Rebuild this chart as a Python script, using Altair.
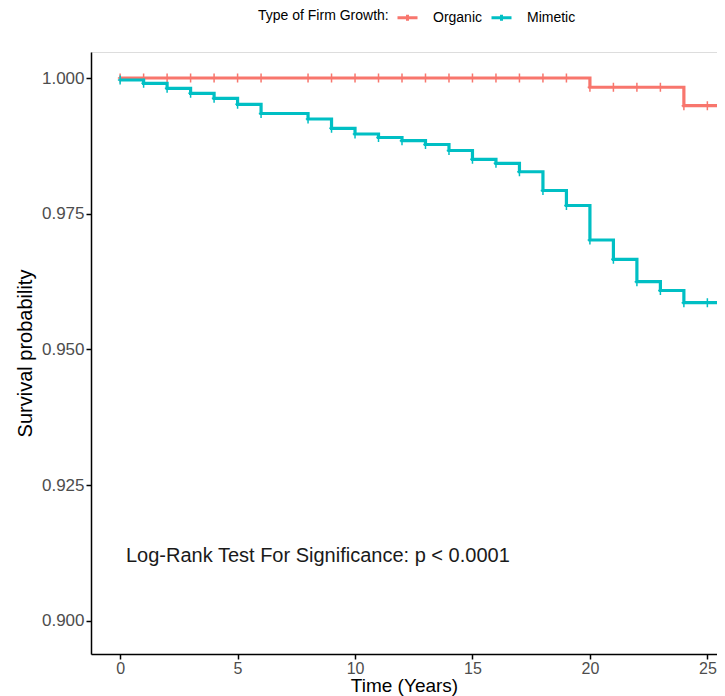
import altair as alt
import pandas as pd

# ---- data ----
groups = ["Organic", "Mimetic"]
colors = ["#F8766D", "#00BFC4"]

organic_time = [0, 20, 24, 27]
organic_surv = [1.0000, 0.9983, 0.9949, 0.9949]

mimetic_time = [0, 1, 2, 3, 4, 5, 6, 8, 9, 10, 11, 12, 13, 14, 15, 16,
                17, 18, 19, 20, 21, 22, 23, 24, 27]
mimetic_surv = [0.99963, 0.99902, 0.99810, 0.99718, 0.99626, 0.99516, 0.99346,
                0.99245, 0.99074, 0.98969, 0.98904, 0.98845, 0.98775, 0.98665,
                0.98503, 0.98429, 0.98274, 0.97928, 0.97652, 0.97017, 0.96661,
                0.96249, 0.96087, 0.95862, 0.95862]

censor_time = [0, 1, 2, 3, 4, 5, 6, 8, 9, 10, 11, 12, 13, 14, 15, 16, 17, 18,
               19, 20, 21, 22, 23, 24, 25]

x_ticks = [0, 5, 10, 15, 20, 25]
y_ticks = [0.900, 0.925, 0.950, 0.975, 1.000]

note_text = ["Log-Rank Test For Significance: p < 0.0001"]
note_x = [0.25]
note_y = [0.912]


def step_value(times, survs, t):
    v = survs[0]
    for tt, s in zip(times, survs):
        if tt <= t:
            v = s
    return v


rows = []
for t, s in zip(organic_time, organic_surv):
    rows.append({"group": "Organic", "time": t, "surv": s})
for t, s in zip(mimetic_time, mimetic_surv):
    rows.append({"group": "Mimetic", "time": t, "surv": s})
df_lines = pd.DataFrame(rows)

crow = []
for t in censor_time:
    crow.append({"group": "Organic", "time": t,
                 "surv": step_value(organic_time, organic_surv, t)})
    crow.append({"group": "Mimetic", "time": t,
                 "surv": step_value(mimetic_time, mimetic_surv, t)})
df_cens = pd.DataFrame(crow)

df_note = pd.DataFrame({"x": note_x, "y": note_y, "label": note_text})

FONT = "Liberation Sans"

x_scale = alt.Scale(domain=[-1.24, 25.41], nice=False, zero=False)
y_scale = alt.Scale(domain=[0.89392, 1.00479], nice=False, zero=False)

x_axis = alt.Axis(values=x_ticks, title="Time (Years)", grid=False,
                  labelFontSize=16, titleFontSize=19, labelFont=FONT, titleFont=FONT,
                  labelColor="#4d4d4d", titleColor="black", titleFontWeight="normal",
                  domainColor="black", domainWidth=1.5, tickColor="black",
                  tickWidth=1.5, tickSize=5, labelPadding=1, titlePadding=0)
y_axis = alt.Axis(values=y_ticks, format=".3f", title="Survival probability",
                  grid=False, labelFontSize=17, titleFontSize=20, labelFont=FONT,
                  titleFont=FONT, labelColor="#4d4d4d", titleColor="black",
                  titleFontWeight="normal", domainColor="black", domainWidth=1.5,
                  tickColor="black", tickWidth=1.5, tickSize=5, labelPadding=2,
                  titlePadding=6)

legend = alt.Legend(title="Type of Firm Growth:", orient="none", legendX=167,
                    legendY=-46, direction="horizontal", titleOrient="left",
                    symbolType="M-1,0H1M0,-0.3V0.3", symbolSize=400,
                    symbolStrokeWidth=3, labelFontSize=14, titleFontSize=14,
                    labelFont=FONT, titleFont=FONT, titleFontWeight="normal",
                    labelColor="black", titleColor="black", labelOffset=14,
                    columnPadding=2, titlePadding=7)

color = alt.Color("group:N", scale=alt.Scale(domain=groups, range=colors),
                  legend=legend)

X = alt.X("time:Q", scale=x_scale, axis=x_axis)
Y = alt.Y("surv:Q", scale=y_scale, axis=y_axis)

layers = []
for g in groups:
    layers.append(
        alt.Chart(df_lines).transform_filter(alt.datum.group == g)
        .mark_line(interpolate="step-after", strokeWidth=3.2, clip=True)
        .encode(x=X, y=Y, color=color)
    )
    layers.append(
        alt.Chart(df_cens).transform_filter(alt.datum.group == g)
        .mark_point(shape="M-0.5,0H0.5M0,-1V1", size=81, strokeWidth=1.5,
                    filled=False, opacity=1, clip=True)
        .encode(x=X, y=Y, color=color)
    )

note = alt.Chart(df_note).mark_text(align="left", baseline="middle",
                                    fontSize=20, font=FONT, color="#1a1a1a").encode(
    x=alt.X("x:Q", scale=x_scale, axis=x_axis),
    y=alt.Y("y:Q", scale=y_scale, axis=y_axis),
    text="label:N",
)
layers.append(note)

chart = alt.layer(*layers).properties(
    width=626, height=602,
    autosize=alt.AutoSizeParams(type="none"),
    padding={"left": 83, "top": 44, "right": 0, "bottom": 42},
).configure_view(stroke=None).configure(background="white")

chart.save("out.html", embed_options={"renderer": "svg", "actions": False})
